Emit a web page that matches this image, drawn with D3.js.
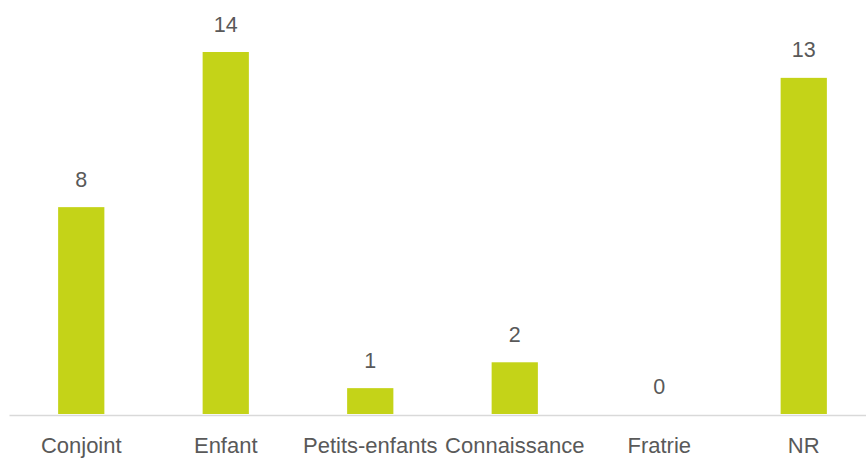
<!DOCTYPE html>
<html>
<head>
<meta charset="utf-8">
<script src="https://cdn.jsdelivr.net/npm/d3@7"></script>
<style>
	html, body { margin: 0; padding: 0; background: #fff; }
	svg { display: block; font-family: "Liberation Sans", Arial, sans-serif; }
</style>
</head>
<body>
<svg id="chart" width="866" height="469"></svg>
<script>
	"use strict";

	var categories = ["Conjoint", "Enfant", "Petits-enfants", "Connaissance", "Fratrie", "NR"];
	var values = [8, 14, 1, 2, 0, 13];

	var bar_color = "#C4D318";
	var text_color = "#595959";
	var axis_color = "#D9D9D9";

	var svg = d3.select("#chart");

	var x = d3.scaleBand()
		.domain(categories)
		.range([9, 876])
		.paddingInner(0.68)
		.paddingOuter(0.34);

	var y = d3.scaleLinear()
		.domain([0, 14])
		.range([414, 52]);

	// bars
	svg.append("g").selectAll("rect")
		.data(values)
		.enter().append("rect")
		.attr("x", function(d, i){ return x(categories[i]); })
		.attr("width", x.bandwidth())
		.attr("y", function(d){ return y(d); })
		.attr("height", function(d){ return y(0) - y(d); })
		.attr("fill", bar_color);

	// value labels
	svg.append("g").selectAll("text")
		.data(values)
		.enter().append("text")
		.attr("x", function(d, i){ return x(categories[i]) + x.bandwidth()/2; })
		.attr("y", function(d){ return y(d) - 20.5; })
		.attr("text-anchor", "middle")
		.attr("font-size", 21.5)
		.attr("fill", text_color)
		.text(function(d){ return d; });

	// category axis
	var axis = svg.append("g")
		.attr("transform", "translate(0," + 415 + ")")
		.call(d3.axisBottom(x).tickSize(0).tickPadding(0));
	axis.select(".domain").attr("stroke", axis_color).attr("stroke-width", 1.5);
	axis.selectAll(".tick text")
		.attr("y", 38)
		.attr("dy", null)
		.attr("font-size", 22)
		.attr("font-family", "Liberation Sans, Arial, sans-serif")
		.attr("fill", text_color);
</script>
</body>
</html>
